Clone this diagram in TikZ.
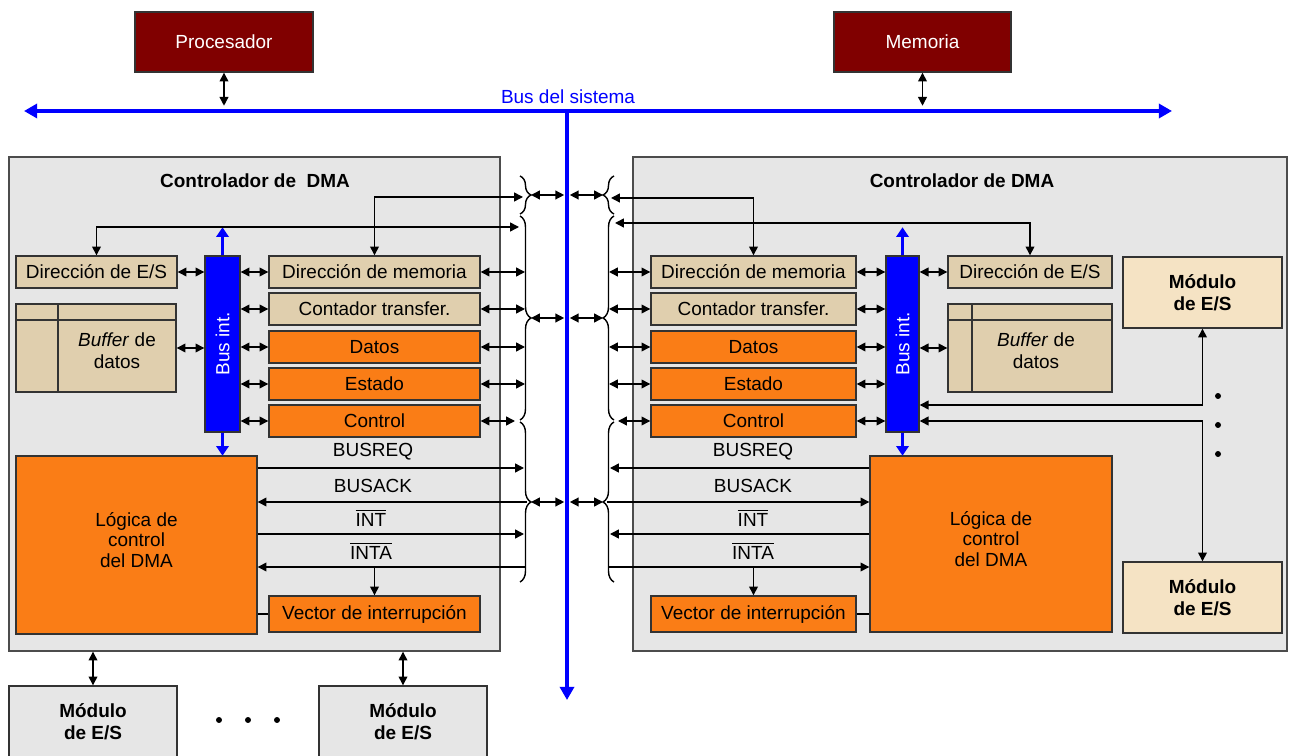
\documentclass[tikz,border=0pt]{standalone}
\usepackage{fontspec}
\setmainfont{Liberation Sans}
\usetikzlibrary{fit,arrows.meta,decorations.pathreplacing}

\definecolor{cpured}{RGB}{128,0,0}
\definecolor{regtan}{RGB}{224,207,174}
\definecolor{modtan}{RGB}{245,227,196}
\definecolor{dmaorange}{RGB}{250,125,22}
\definecolor{panelgray}{RGB}{230,230,230}

\tikzset{
  every node/.style={font=\fontsize{10.8}{12.4}\selectfont},
  box/.style={draw=black!80, line width=0.8pt, inner sep=0pt},
  cpubox/.style={box, fill=cpured},
  panel/.style={box, draw=black!70, fill=panelgray},
  regbox/.style={box, fill=regtan},
  orgbox/.style={box, fill=dmaorange},
  modbox/.style={box, fill=modtan},
  busint/.style={box, fill=blue},
  title/.style={font=\fontsize{10.8}{12.4}\selectfont\bfseries},
  txt/.style={label={[align=center]center:#1}},
  wtxt/.style={label={[align=center, text=white]center:#1}},
  btxt/.style={label={[align=center, title]center:#1}},
  logtxt/.style={label={[align=center, yshift=0.1cm, font=\fontsize{10.8}{11.6}\selectfont]center:#1}},
  sysbus/.style={blue, line width=2.8pt, >={Triangle[length=7.5pt,width=8pt]}},
  intbus/.style={blue, line width=2.2pt, ->, >={Triangle[length=5.5pt,width=7pt]}},
  brc/.style={decorate, decoration={brace, amplitude=0.22cm}, line width=0.8pt},
}

\begin{document}
\begin{tikzpicture}[x=0.02cm, y=-0.02cm, line width=0.8pt, >={Triangle[length=5pt,width=5pt]}]

\useasboundingbox (0,0) rectangle (1291,756);
\clip (0,0) rectangle (1291,756);

% Procesador y memoria
\node[cpubox, fit={(135,12)(313,72)}, wtxt=Procesador] (cpu) {};
\node[cpubox, fit={(834,12)(1011,72)}, wtxt=Memoria] (mem) {};

% Controladores de DMA
\node[panel, fit={(9,157)(500,651)}] (lpanel) {};
\node[panel, fit={(633,157)(1287,651)}] (rpanel) {};
\node[title] (ltitle) at (255,181) {Controlador de\ \ DMA};
\node[title] (rtitle) at (962,181) {Controlador de DMA};

% Bus del sistema
\coordinate (sbw) at (24,111);
\coordinate (sbe) at (1172,111);
\coordinate (sbc) at (567,111);
\coordinate (sbs) at (567,700);
\draw[sysbus, <->] (sbw) -- (sbe);
\draw[sysbus, ->] (sbc) -- (sbs);
\node[text=blue] (sbname) at (568,97) {Bus del sistema};
\draw[<->, shorten >=3pt] (cpu.south) -- (cpu.south |- sbc);
\draw[<->, shorten >=3pt] (mem.south) -- (mem.south |- sbc);

% DMA izquierdo
\node[regbox, fit={(16,256)(177,288)}, txt=Dirección de E/S] (lio) {};
\node[regbox, fit={(16,304)(176,392)}] (lbuf) {};
\draw[black!80] (lbuf.west |- 0,320) -- (lbuf.east |- 0,320);
\draw[black!80] (58,304) -- (58,392);
\node (lbuftxt) at (117,351) [align=center] {\textit{Buffer} de\\datos};
\node[busint, fit={(205,256)(240,432)}, label={[rotate=90, text=white]center:Bus int.}] (lbus) {};
\node[regbox, fit={(269,256)(480,288)}, txt=Dirección de memoria] (lmem) {};
\node[regbox, fit={(269,293)(480,325)}, txt=Contador transfer.] (lcnt) {};
\node[orgbox, fit={(269,331)(480,363)}, txt=Datos] (ldat) {};
\node[orgbox, fit={(269,368)(480,400)}, txt=Estado] (lest) {};
\node[orgbox, fit={(269,405)(480,437)}, txt=Control] (lctl) {};
\node[orgbox, fit={(16,456)(257,634)}, logtxt={Lógica de\\control\\del DMA}] (llog) {};
\node[orgbox, fit={(269,596)(480,632)}, txt=Vector de interrupción] (lvec) {};

\draw[intbus] (lbus.north) -- ++(0,-28);
\draw[intbus] (lbus.south) -- ++(0,23);
\draw[<->] (lio.east) -- (lbus.west |- lio);
\draw[<->] (lbuf.east) -- (lbus.west |- lbuf);
\foreach \r in {lmem,lcnt,ldat,lest,lctl}
  \draw[<->] (lbus.east |- \r) -- (\r.west);

% DMA derecho
\node[regbox, fit={(651,256)(856,288)}, txt=Dirección de memoria] (rmem) {};
\node[regbox, fit={(651,293)(856,325)}, txt=Contador transfer.] (rcnt) {};
\node[orgbox, fit={(651,331)(856,363)}, txt=Datos] (rdat) {};
\node[orgbox, fit={(651,368)(856,400)}, txt=Estado] (rest) {};
\node[orgbox, fit={(651,405)(856,437)}, txt=Control] (rctl) {};
\node[busint, fit={(886,256)(919,432)}, label={[rotate=90, text=white]center:Bus int.}] (rbus) {};
\node[regbox, fit={(948,256)(1112,288)}, txt=Dirección de E/S] (rio) {};
\node[regbox, fit={(948,304)(1112,392)}] (rbuf) {};
\draw[black!80] (rbuf.west |- 0,320) -- (rbuf.east |- 0,320);
\draw[black!80] (972,304) -- (972,392);
\node (rbuftxt) at (1036,351) [align=center] {\textit{Buffer} de\\datos};
\node[orgbox, fit={(870,456)(1112,632)}, logtxt={Lógica de\\control\\del DMA}] (rlog) {};
\node[orgbox, fit={(651,596)(856,632)}, txt=Vector de interrupción] (rvec) {};
\node[modbox, fit={(1123,257)(1282,328)}, btxt={Módulo\\de E/S}] (rmodt) {};
\node[modbox, fit={(1123,562)(1282,633)}, btxt={Módulo\\de E/S}] (rmodb) {};

\draw[intbus] (rbus.north) -- ++(0,-28);
\draw[intbus] (rbus.south) -- ++(0,23);
\draw[<->] (rbus.east |- rio) -- (rio.west);
\draw[<->] (rbus.east |- rbuf) -- (rbuf.west);
\foreach \r in {rmem,rcnt,rdat,rest,rctl}
  \draw[<->] (\r.east) -- (rbus.west |- \r);
\draw[<->] (rbus.east |- 0,405) -| (rmodt.south);
\draw[<->] (rbus.east |- 0,421) -| (rmodb.north);
\foreach \y in {396,425,454}
  \fill (1218,\y) circle (1.7pt);

% Llaves hacia el bus
\draw[brc] (520,176) -- (520,214);
\draw[brc] (520,216) -- (520,420);
\draw[brc] (520,422) -- (520,582);
\draw[brc] (614,214) -- (614,176);
\draw[brc] (614,420) -- (614,216);
\draw[brc] (614,582) -- (614,422);
\foreach \n/\y in {1/195,2/318,3/502} {
  \coordinate (lt\n) at (531,\y);
  \coordinate (rt\n) at (603,\y);
  \draw[<->, shorten >=1.6pt] (lt\n) -- (lt\n -| sbc);
  \draw[<->, shorten <=1.6pt] (rt\n -| sbc) -- (rt\n);
}

% Registros a las llaves
\coordinate (lbr) at (525,0);
\coordinate (rbr) at (609,0);
\foreach \r in {lmem,lcnt,ldat,lest}
  \draw[<->] (\r.east) -- (\r.east -| lbr);
\draw[<->] (lctl.east) -- (lctl.east -| 515,0);
\foreach \r in {rmem,rcnt,rdat,rest}
  \draw[<->] (\r.west -| rbr) -- (\r.west);
\draw[<->] (rctl.west -| 618,0) -- (rctl.west);

\coordinate (lb1) at (523,197);
\coordinate (lb2) at (519,227);
\coordinate (rb1) at (611,198);
\coordinate (rb2) at (615,223);
\draw[<->] (lmem.north) |- (lb1);
\draw[<->] (lio.north) |- (lb2);
\draw[<->] (rmem.north) |- (rb1);
\draw[<->] (rio.north) |- (rb2);

% Lineas de control
\coordinate (lreq) at (524,468);
\coordinate (lack) at (527,502);
\coordinate (lint) at (524,534);
\coordinate (linta) at (526,567);
\draw[->] (llog.east |- lreq) -- (lreq);
\draw[->] (lack) -- (llog.east |- lack);
\draw[->] (llog.east |- lint) -- (lint);
\draw[->] (linta) -- (llog.east |- linta);
\draw[->] (lvec.north |- linta) -- (lvec.north);
\draw (lvec.west) -- (llog.east |- lvec.west);
\node (lreql) at (373,452) {BUSREQ};
\node (lackl) at (373,486) {BUSACK};
\node (lintl) at (371,518) {$\overline{\hbox{INT}}$};
\node (lintal) at (371,551) {$\overline{\hbox{INTA}}$};

\coordinate (rreq) at (610,468);
\coordinate (rack) at (607,502);
\coordinate (rint) at (610,534);
\coordinate (rinta) at (608,567);
\draw[->] (rlog.west |- rreq) -- (rreq);
\draw[->] (rack) -- (rlog.west |- rack);
\draw[->] (rlog.west |- rint) -- (rint);
\draw[->] (rinta) -- (rlog.west |- rinta);
\draw[->] (rvec.north |- rinta) -- (rvec.north);
\draw (rvec.east) -- (rlog.west |- rvec.east);
\node (rreql) at (753,452) {BUSREQ};
\node (rackl) at (753,486) {BUSACK};
\node (rintl) at (753,518) {$\overline{\hbox{INT}}$};
\node (rintal) at (753,551) {$\overline{\hbox{INTA}}$};

% Modulos de E/S abajo
\node[box, fill=panelgray, fit={(9,686)(177,758)}, btxt={Módulo\\de E/S}] (lmod1) {};
\node[box, fill=panelgray, fit={(319,686)(487,758)}, btxt={Módulo\\de E/S}] (lmod2) {};
\draw[<->] (lmod1.north |- lpanel.south) -- (lmod1.north);
\draw[<->] (lmod2.north |- lpanel.south) -- (lmod2.north);
\foreach \x in {219,248,277}
  \fill (\x,720) circle (1.7pt);

\end{tikzpicture}
\end{document}
